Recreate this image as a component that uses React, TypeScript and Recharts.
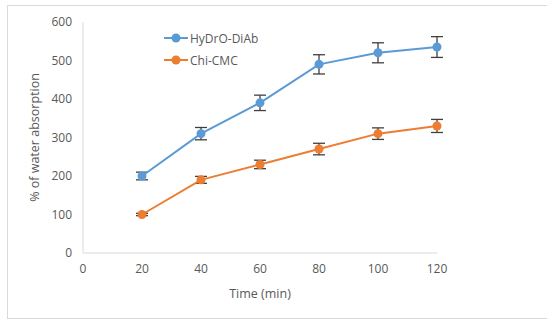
import { LineChart, Line, XAxis, YAxis, ErrorBar, Legend } from "recharts";

const times = [20, 40, 60, 80, 100, 120];
const hydroDiab = [200, 310, 390, 490, 520, 535];
const hydroDiabErr = [10, 16, 20, 25, 26, 27];
const chiCmc = [100, 190, 230, 270, 310, 330];
const chiCmcErr = [3, 9, 11, 15, 15, 17];
const xTicks = [0, 20, 40, 60, 80, 100, 120];
const yTicks = [0, 100, 200, 300, 400, 500, 600];

const BLUE = "#5B9BD5";
const ORANGE = "#ED7D31";
const TEXT = "#595959";
const FONT = "'Open Sans', sans-serif";

const data = times.map((t, i) => ({
  time: t,
  hydro: hydroDiab[i],
  hydroErr: hydroDiabErr[i],
  chi: chiCmc[i],
  chiErr: chiCmcErr[i],
}));

const legendItems = [
  { name: "HyDrO-DiAb", color: BLUE },
  { name: "Chi-CMC", color: ORANGE },
];

// legend sits inside the plot, like the Excel original
const renderLegend = () => (
  <div style={{ fontFamily: FONT, fontSize: 12, color: TEXT }}>
    {legendItems.map((item) => (
      <div key={item.name} style={{ display: "flex", alignItems: "center", height: 22 }}>
        <svg width={24} height={10} style={{ marginRight: 2 }}>
          <line x1={0} y1={5} x2={24} y2={5} stroke={item.color} strokeWidth={2} />
          <circle cx={12} cy={5} r={4.5} fill={item.color} />
        </svg>
        <span>{item.name}</span>
      </div>
    ))}
  </div>
);

export default function App() {
  return (
    <div
      style={{
        position: "fixed",
        left: 7,
        top: 5,
        width: 560,
        height: 312,
        border: "1px solid #d9d9d9",
        background: "#fff",
      }}
    >
      <div style={{ position: "absolute", left: -8, top: -6 }}>
        <LineChart
          width={547}
          height={321}
          data={data}
          margin={{ top: 22, right: 110, bottom: 20, left: 20 }}
        >
          <XAxis
            dataKey="time"
            type="number"
            domain={[0, 120]}
            ticks={xTicks}
            height={48}
            tickLine={false}
            tickMargin={5}
            axisLine={{ stroke: "#d9d9d9" }}
            tick={{ fill: TEXT, fontSize: 12, fontFamily: FONT }}
            label={{
              value: "Time (min)",
              position: "insideBottom",
              offset: 3,
              fill: TEXT,
              fontSize: 12.5,
              fontFamily: FONT,
            }}
          />
          <YAxis
            width={63}
            domain={[0, 600]}
            ticks={yTicks}
            tickLine={false}
            tickMargin={5}
            axisLine={{ stroke: "#d9d9d9" }}
            tick={{ fill: TEXT, fontSize: 12, fontFamily: FONT }}
            label={{
              value: "% of water absorption",
              angle: -90,
              position: "insideLeft",
              offset: 15,
              style: { textAnchor: "middle" },
              fill: TEXT,
              fontSize: 12.5,
              fontFamily: FONT,
            }}
          />
          <Legend
            content={renderLegend}
            layout="vertical"
            verticalAlign="middle"
            align="center"
            wrapperStyle={{ top: 27, left: 164, width: 120 }}
          />
          <Line
            dataKey="hydro"
            name="HyDrO-DiAb"
            stroke={BLUE}
            strokeWidth={2}
            dot={{ r: 4.5, fill: BLUE, stroke: BLUE, strokeWidth: 0 }}
            isAnimationActive={false}
          >
            <ErrorBar dataKey="hydroErr" width={6} stroke="#404040" strokeWidth={1.3} direction="y" />
          </Line>
          <Line
            dataKey="chi"
            name="Chi-CMC"
            stroke={ORANGE}
            strokeWidth={2}
            dot={{ r: 4.5, fill: ORANGE, stroke: ORANGE, strokeWidth: 0 }}
            isAnimationActive={false}
          >
            <ErrorBar dataKey="chiErr" width={6} stroke="#404040" strokeWidth={1.3} direction="y" />
          </Line>
        </LineChart>
      </div>
    </div>
  );
}
